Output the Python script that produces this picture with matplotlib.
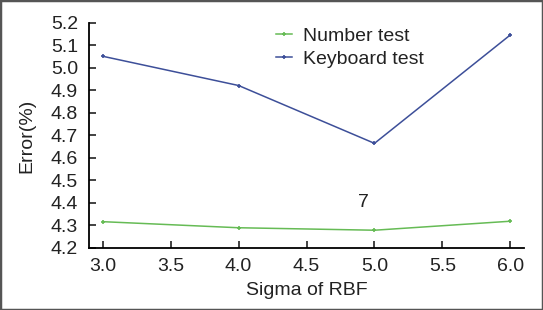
import matplotlib
matplotlib.use("Agg")
import matplotlib.pyplot as plt
from matplotlib.patches import Rectangle

plt.rcParams['font.family'] = ['Liberation Sans', 'DejaVu Sans']

sigma = [3.0, 4.0, 5.0, 6.0]
number_test = [4.317, 4.290, 4.279, 4.319]
keyboard_test = [5.052, 4.922, 4.665, 5.147]
xticks = [3.0, 3.5, 4.0, 4.5, 5.0, 5.5, 6.0]
yticks = [4.2, 4.3, 4.4, 4.5, 4.6, 4.7, 4.8, 4.9, 5.0, 5.1, 5.2]

fig = plt.figure(figsize=(5.43, 3.10), dpi=100)
ax = fig.add_axes([0.164, 0.2, 0.801, 0.726])

ax.plot(sigma, number_test, color='#66bb55', lw=1.1, marker='+', ms=3.5, mew=1.2,
        label='Number test')
ax.plot(sigma, keyboard_test, color='#3d4f99', lw=1.1, marker='+', ms=3.5, mew=1.2,
        label='Keyboard test')

ax.set_xlim(2.9, 6.1)
ax.set_ylim(4.2, 5.2)
ax.set_xticks(xticks)
ax.set_xticklabels(['%.1f' % t for t in xticks])
ax.set_yticks(yticks)
ax.set_yticklabels(['%.1f' % t for t in yticks])
ax.tick_params(direction='in', length=5, width=1.2, labelsize=14,
               colors='#222222')
ax.tick_params(axis='x', pad=7)
ax.tick_params(axis='y', pad=8)
ax.spines['top'].set_visible(False)
ax.spines['right'].set_visible(False)
ax.spines['left'].set_linewidth(1.3)
ax.spines['bottom'].set_linewidth(1.3)

ax.set_xlabel('Sigma of RBF', fontsize=14, color='#222222', labelpad=5)
ax.set_ylabel('Error(%)', fontsize=14, color='#222222', labelpad=11)

ax.text(4.92, 4.40, '7', fontsize=14, color='#222222', ha='center', va='center')

leg = ax.legend(loc='upper left', bbox_to_anchor=(0.39, 1.06), frameon=False,
                fontsize=14, handlelength=0.8, handletextpad=0.6,
                labelspacing=0.3)
for t in leg.get_texts():
    t.set_color('#222222')

fig.patches.append(Rectangle((0, 0), 1, 1, transform=fig.transFigure,
                             fill=False, edgecolor='#555555', lw=2.5))

fig.savefig('out.png', dpi=100)
